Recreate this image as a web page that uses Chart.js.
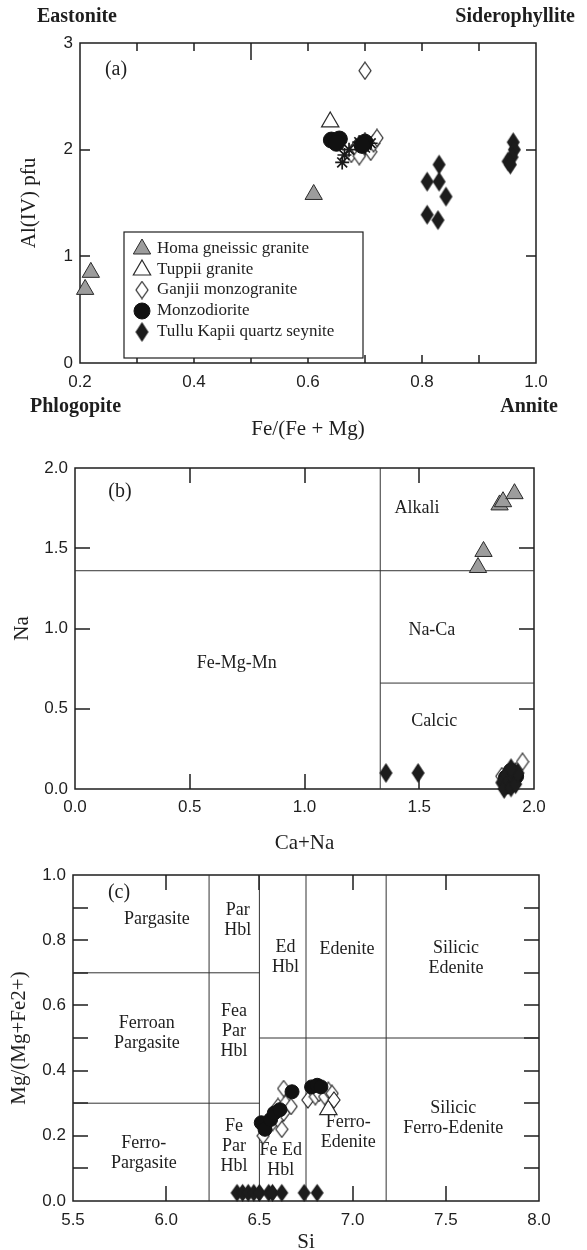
<!DOCTYPE html>
<html lang="en">
<head>
<meta charset="UTF-8">
<title>Mica and amphibole classification</title>
<script src="https://cdn.jsdelivr.net/npm/chart.js"></script>
<style>
  html, body { margin: 0; padding: 0; background: #fff; overflow: hidden; }
  #wrap { position: relative; width: 587px; height: 1250px; }
  #wrap canvas { position: absolute; left: 0; }
</style>
</head>
<body>
<div id="wrap">
  <canvas id="chartA" width="587" height="445" style="top:0px"></canvas>
  <canvas id="chartB" width="587" height="420" style="top:440px"></canvas>
  <canvas id="chartC" width="587" height="405" style="top:845px"></canvas>
</div>
<script>
const SERIF = '"Liberation Serif", "Times New Roman", serif';
const SANS = '"Liberation Sans", Arial, sans-serif';
const INK = '#1e1e1e';

const seriesNames = ['Homa gneissic granite', 'Tuppii granite', 'Ganjii monzogranite', 'Monzodiorite', 'Tullu Kapii quartz seynite'];

// ---- (a) biotite: Fe/(Fe+Mg) vs Al(IV)
const aXLabels = [0.2, 0.4, 0.6, 0.8, 1.0];
const aYLabels = [0, 1, 2, 3];
const homaA = [[0.209, 0.69], [0.219, 0.85], [0.61, 1.58]];
const tuppiiA = [[0.639, 2.26]];
const ganjiiA = [[0.70, 2.74], [0.676, 1.96], [0.684, 2.02], [0.69, 2.05], [0.695, 1.99], [0.70, 2.08],
                 [0.705, 2.03], [0.71, 1.98], [0.715, 2.06], [0.721, 2.11], [0.69, 1.94]];
const monzoA = [[0.641, 2.09], [0.655, 2.10], [0.65, 2.06], [0.70, 2.07], [0.695, 2.04]];
const starA = [[0.66, 1.88], [0.664, 1.95], [0.672, 2.0], [0.69, 2.07], [0.70, 2.02], [0.71, 2.06]];
const tulluA = [[0.809, 1.70], [0.83, 1.86], [0.83, 1.70], [0.842, 1.56], [0.809, 1.39], [0.828, 1.34],
                [0.96, 2.07], [0.962, 2.0], [0.958, 1.93], [0.951, 1.89], [0.955, 1.86]];

// ---- (b) amphibole groups: Ca+Na vs Na
const bXLabels = [0, 0.5, 1.0, 1.5, 2.0];
const bYLabels = [0, 0.5, 1.0, 1.5, 2.0];
const homaB = [[1.756, 1.38], [1.78, 1.48], [1.85, 1.77], [1.865, 1.79], [1.915, 1.84]];
const tuppiiB = [[1.89, 0.05]];
const ganjiiB = [[1.95, 0.17], [1.86, 0.08], [1.92, 0.11], [1.88, 0.02]];
const monzoB = [[1.88, 0.07], [1.90, 0.11], [1.92, 0.08], [1.89, 0.02]];
const tulluB = [[1.355, 0.10], [1.495, 0.10], [1.86, 0.04], [1.87, 0.0], [1.88, 0.09], [1.89, 0.05],
                [1.90, 0.01], [1.91, 0.07], [1.92, 0.03], [1.93, 0.10], [1.90, 0.13]];
const bBounds = [
  [[0, 1.36], [2, 1.36]],
  [[1.33, 0], [1.33, 2]],
  [[1.33, 0.66], [2, 0.66]]
];

// ---- (c) calcic amphiboles: Si vs Mg/(Mg+Fe2+)
const cXLabels = [5.5, 6.0, 6.5, 7.0, 7.5, 8.0];
const cYLabels = [0, 0.2, 0.4, 0.6, 0.8, 1.0];
const tuppiiC = [[6.87, 0.28]];
const ganjiiC = [[6.52, 0.20], [6.54, 0.23], [6.57, 0.24], [6.60, 0.25], [6.62, 0.22], [6.63, 0.27],
                 [6.60, 0.29], [6.64, 0.30], [6.67, 0.29], [6.63, 0.345], [6.76, 0.31], [6.80, 0.32],
                 [6.82, 0.33], [6.85, 0.32], [6.87, 0.34], [6.89, 0.33], [6.90, 0.31]];
const monzoC = [[6.51, 0.24], [6.53, 0.22], [6.56, 0.25], [6.58, 0.27], [6.61, 0.28], [6.675, 0.335],
                [6.78, 0.35], [6.81, 0.355], [6.83, 0.35]];
const tulluC = [[6.38, 0.025], [6.41, 0.025], [6.44, 0.025], [6.47, 0.025], [6.50, 0.025], [6.55, 0.025],
                [6.57, 0.025], [6.62, 0.025], [6.74, 0.025], [6.81, 0.025]];
const cBounds = [
  [[6.23, 0], [6.23, 1]],
  [[6.5, 0], [6.5, 1]],
  [[6.75, 0], [6.75, 1]],
  [[7.18, 0], [7.18, 1]],
  [[5.5, 0.7], [6.5, 0.7]],
  [[5.5, 0.3], [6.5, 0.3]],
  [[6.5, 0.5], [8.0, 0.5]]
];

// field names (data coordinates)
const bFields = [
  {text: ['Alkali'], x: 1.49, y: 1.75},
  {text: ['Na-Ca'], x: 1.555, y: 0.99},
  {text: ['Calcic'], x: 1.565, y: 0.42},
  {text: ['Fe-Mg-Mn'], x: 0.705, y: 0.785}
];
const cFields = [
  {text: ['Pargasite'], x: 5.95, y: 0.865},
  {text: ['Par', 'Hbl'], x: 6.384, y: 0.862},
  {text: ['Ed', 'Hbl'], x: 6.64, y: 0.749},
  {text: ['Edenite'], x: 6.97, y: 0.773},
  {text: ['Silicic', 'Edenite'], x: 7.555, y: 0.745},
  {text: ['Ferroan', 'Pargasite'], x: 5.896, y: 0.515},
  {text: ['Fea', 'Par', 'Hbl'], x: 6.364, y: 0.52},
  {text: ['Ferro-', 'Pargasite'], x: 5.88, y: 0.147},
  {text: ['Fe', 'Par', 'Hbl'], x: 6.364, y: 0.169},
  {text: ['Fe Ed', 'Hbl'], x: 6.615, y: 0.126},
  {text: ['Ferro-', 'Edenite'], x: 6.977, y: 0.212},
  {text: ['Silicic', 'Ferro-Edenite'], x: 7.54, y: 0.255}
];

// tall diamond marker drawn once into a small canvas
function diamond(w, h, fill, stroke, lw) {
  const c = document.createElement('canvas');
  c.width = w + 2; c.height = h + 2;
  const g = c.getContext('2d');
  g.beginPath();
  g.moveTo(c.width / 2, 1);
  g.lineTo(c.width - 1, c.height / 2);
  g.lineTo(c.width / 2, c.height - 1);
  g.lineTo(1, c.height / 2);
  g.closePath();
  if (fill) { g.fillStyle = fill; g.fill(); }
  if (stroke) { g.lineWidth = lw; g.strokeStyle = stroke; g.stroke(); }
  return c;
}

function markSet(big) {
  return {
    homa: {pointStyle: 'triangle', pointRadius: 10, pointBackgroundColor: '#9c9c9c', pointBorderColor: '#2a2a2a', pointBorderWidth: 1},
    tuppii: {pointStyle: 'triangle', pointRadius: 10, pointBackgroundColor: '#fff', pointBorderColor: '#2a2a2a', pointBorderWidth: 1.2},
    ganjii: {pointStyle: diamond(12, big ? 17 : 16, '#fff', '#2a2a2a', 1.2), pointRadius: 8},
    monzo: {pointStyle: 'circle', pointRadius: big ? 8 : 7, pointBackgroundColor: '#111', pointBorderColor: '#111', pointBorderWidth: 1},
    tullu: {pointStyle: diamond(13, big ? 20 : 18, '#1c1c1c'), pointRadius: 9},
    star: {pointStyle: 'star', pointRadius: 7, pointBackgroundColor: '#222', pointBorderColor: '#1a1a1a', pointBorderWidth: 1.7}
  };
}

function series(label, arr, mark, order) {
  return Object.assign({
    label, order, clip: false, showLine: false,
    data: arr.map(p => ({x: p[0], y: p[1]}))
  }, mark);
}

function boundary(seg) {
  return {
    label: '', order: 100, showLine: true, clip: false, pointRadius: 0,
    borderColor: '#333', borderWidth: 1,
    data: seg.map(p => ({x: p[0], y: p[1]}))
  };
}

const panelDecor = {
  id: 'panelDecor',
  beforeDatasetsDraw(chart, args, o) {
    const {ctx, chartArea: a} = chart;
    const x = chart.scales.x, y = chart.scales.y;
    ctx.save();
    ctx.fillStyle = INK;
    ctx.textAlign = 'center';
    ctx.textBaseline = 'middle';
    ctx.font = '18px ' + SERIF;
    (o.fields || []).forEach(f => {
      const px = x.getPixelForValue(f.x), py = y.getPixelForValue(f.y);
      const n = f.text.length;
      f.text.forEach((t, i) => ctx.fillText(t, px, py + (i - (n - 1) / 2) * 20));
    });
    ctx.strokeStyle = INK;
    ctx.lineWidth = 1.5;
    ctx.strokeRect(a.left, a.top, a.right - a.left, a.bottom - a.top);
    ctx.beginPath();
    (o.xTicks || []).forEach(t => {
      const px = Math.round(x.getPixelForValue(t[0]));
      ctx.moveTo(px, a.top); ctx.lineTo(px, a.top + t[1]);
      ctx.moveTo(px, a.bottom); ctx.lineTo(px, a.bottom - t[1]);
    });
    (o.yTicks || []).forEach(t => {
      const py = Math.round(y.getPixelForValue(t[0]));
      ctx.moveTo(a.left, py); ctx.lineTo(a.left + t[1], py);
      ctx.moveTo(a.right, py); ctx.lineTo(a.right - t[1], py);
    });
    ctx.stroke();
    ctx.font = '20px ' + SERIF;
    ctx.fillText(o.tag, a.left + o.tagAt[0], a.top + o.tagAt[1]);
    ctx.font = 'bold 20px ' + SERIF;
    (o.corners || []).forEach(c => {
      ctx.textAlign = c.align;
      ctx.fillText(c.text, c.x, c.y);
    });
    ctx.restore();
  },
  afterDatasetsDraw(chart, args, o) {
    const L = o.legend;
    if (!L) return;
    const ctx = chart.ctx;
    ctx.save();
    ctx.fillStyle = '#fff';
    ctx.fillRect(L.left, L.top, L.right - L.left, L.bottom - L.top);
    ctx.strokeStyle = INK;
    ctx.lineWidth = 1.2;
    ctx.strokeRect(L.left, L.top, L.right - L.left, L.bottom - L.top);
    L.items.forEach((idx, i) => {
      const ds = chart.data.datasets[idx];
      const yy = L.rows[i];
      ctx.fillStyle = ds.pointBackgroundColor || '#000';
      ctx.strokeStyle = ds.pointBorderColor || '#000';
      ctx.lineWidth = ds.pointBorderWidth || 1;
      Chart.helpers.drawPoint(ctx, {
        pointStyle: ds.pointStyle, radius: ds.pointRadius, rotation: 0,
        borderWidth: ds.pointBorderWidth || 0
      }, L.symX, yy);
      ctx.fillStyle = INK;
      ctx.font = '17px ' + SERIF;
      ctx.textAlign = 'left';
      ctx.textBaseline = 'middle';
      ctx.fillText(ds.label, L.textX, yy);
    });
    ctx.restore();
  }
};

function axis(labels, min, max, fmt, title, fitKey, fitVal, tickPad, titlePad) {
  return {
    type: 'linear', min, max,
    afterBuildTicks: s => { s.ticks = labels.map(v => ({value: v})); },
    ticks: {
      autoSkip: false, maxRotation: 0, padding: tickPad,
      color: INK, font: {family: SANS, size: 17},
      callback: v => fmt(v)
    },
    grid: {display: false, drawTicks: false},
    border: {display: false},
    title: {display: true, text: title, color: INK, font: {family: SERIF, size: 21}, padding: titlePad},
    afterFit: s => { s[fitKey] = fitVal; }
  };
}

Chart.defaults.font.family = SERIF;

function makeChart(id, datasets, pad, xAxis, yAxis, decor) {
  return new Chart(document.getElementById(id), {
    type: 'scatter',
    data: {datasets},
    options: {
      responsive: false, animation: false, devicePixelRatio: 1, events: [],
      layout: {padding: pad},
      plugins: {legend: {display: false}, tooltip: {enabled: false}, panelDecor: decor},
      scales: {x: xAxis, y: yAxis}
    },
    plugins: [panelDecor]
  });
}

const one = v => Number(v).toFixed(1);

// ---- (a)
const mA = markSet(true);
makeChart('chartA', [
  series(seriesNames[0], homaA, mA.homa, 6),
  series(seriesNames[1], tuppiiA, mA.tuppii, 5),
  series(seriesNames[2], ganjiiA, mA.ganjii, 4),
  series(seriesNames[3], monzoA, mA.monzo, 2),
  series(seriesNames[4], tulluA, mA.tullu, 1),
  series('', starA, mA.star, 3)
], {left: 17, right: 51, top: 43, bottom: 3},
  axis(aXLabels, 0.2, 1.0, one, 'Fe/(Fe + Mg)', 'height', 79, 9, {top: 0, bottom: 0}),
  axis(aYLabels, 0, 3, v => String(v), 'Al(IV) pfu', 'width', 63, 7, {top: 0, bottom: 0}),
  {
    tag: '(a)', tagAt: [36, 27],
    xTicks: [[0.3, 8], [0.4, 8], [0.5, 17], [0.6, 8], [0.7, 8], [0.8, 8], [0.9, 8]],
    yTicks: [[1, 10], [2, 10]],
    corners: [
      {text: 'Eastonite', x: 37, y: 17, align: 'left'},
      {text: 'Siderophyllite', x: 575, y: 17, align: 'right'},
      {text: 'Phlogopite', x: 30, y: 407, align: 'left'},
      {text: 'Annite', x: 558, y: 407, align: 'right'}
    ],
    legend: {left: 124, top: 232, right: 363, bottom: 358, symX: 142, textX: 157,
             rows: [249, 270, 290, 311, 332], items: [0, 1, 2, 3, 4]}
  });

// ---- (b)
const mB = markSet(true);
makeChart('chartB', [
  series(seriesNames[0], homaB, mB.homa, 6),
  series(seriesNames[1], tuppiiB, mB.tuppii, 5),
  series(seriesNames[2], ganjiiB, mB.ganjii, 4),
  series(seriesNames[3], monzoB, mB.monzo, 2),
  series(seriesNames[4], tulluB, mB.tullu, 1)
].concat(bBounds.map(boundary)), {left: 10, right: 53, top: 28, bottom: 4},
  axis(bXLabels, 0, 2, one, 'Ca+Na', 'height', 67, 8, {top: 0, bottom: 0}),
  axis(bYLabels, 0, 2, one, 'Na', 'width', 65, 7, {top: 0, bottom: 0}),
  {
    tag: '(b)', tagAt: [45, 24], fields: bFields,
    xTicks: [[0.5, 15], [1.0, 15], [1.5, 15]],
    yTicks: [[0.5, 15], [1.0, 15], [1.5, 15]]
  });

// ---- (c)
const mC = markSet(false);
makeChart('chartC', [
  series(seriesNames[1], tuppiiC, mC.tuppii, 5),
  series(seriesNames[2], ganjiiC, mC.ganjii, 4),
  series(seriesNames[3], monzoC, mC.monzo, 2),
  series(seriesNames[4], tulluC, mC.tullu, 1)
].concat(cBounds.map(boundary)), {left: 7, right: 48, top: 30, bottom: 0},
  axis(cXLabels, 5.5, 8.0, one, 'Si', 'height', 49, 9, {top: 0, bottom: -5}),
  axis(cYLabels, 0, 1, one, 'Mg/(Mg+Fe2+)', 'width', 66, 7, {top: 0, bottom: 0}),
  {
    tag: '(c)', tagAt: [46, 18], fields: cFields,
    xTicks: [[6.0, 15], [6.5, 15], [7.0, 15], [7.5, 15]],
    yTicks: [[0.1, 15], [0.2, 15], [0.3, 15], [0.4, 15], [0.5, 15], [0.6, 15], [0.7, 15], [0.8, 15], [0.9, 15]]
  });
</script>
</body>
</html>
